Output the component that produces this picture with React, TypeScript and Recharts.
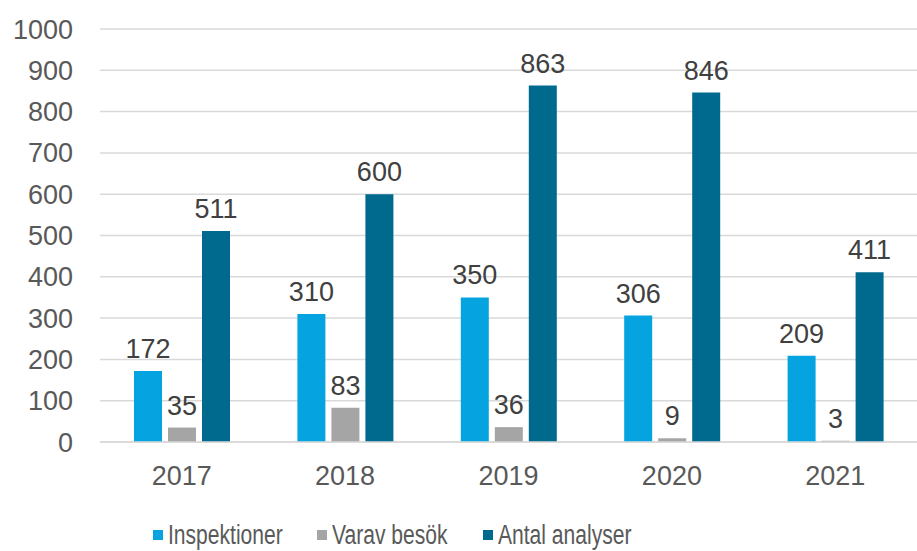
import { BarChart, Bar, XAxis, YAxis, CartesianGrid, LabelList } from "recharts";

const years = ["2017", "2018", "2019", "2020", "2021"];
const inspektioner = [172, 310, 350, 306, 209];
const varavBesok = [35, 83, 36, 9, 3];
const antalAnalyser = [511, 600, 863, 846, 411];
const yTicks = [0, 100, 200, 300, 400, 500, 600, 700, 800, 900, 1000];

const series = [
  { key: "inspektioner", name: "Inspektioner", color: "#05A3DF" },
  { key: "varav", name: "Varav besök", color: "#A5A5A5" },
  { key: "antal", name: "Antal analyser", color: "#006A8E" },
];

const data = years.map((year, i) => ({
  year,
  inspektioner: inspektioner[i],
  varav: varavBesok[i],
  antal: antalAnalyser[i],
}));

const font = "'Liberation Sans', Arial, sans-serif";
const itemWidths = [164, 166, 170];

function ChartLegend() {
  return (
    <div style={{ position: "absolute", left: 153, top: 520, display: "flex", fontFamily: font }}>
      {series.map((s, i) => (
        <div key={s.key} style={{ width: itemWidths[i], display: "flex", alignItems: "center", height: 30 }}>
          <span style={{ width: 10, height: 10, background: s.color, marginRight: 5, flexShrink: 0 }} />
          <span
            style={{
              display: "inline-block",
              fontSize: 27,
              color: "#595959",
              transform: "scaleX(0.78)",
              transformOrigin: "left center",
              whiteSpace: "nowrap",
              lineHeight: "30px",
            }}
          >
            {s.name}
          </span>
        </div>
      ))}
    </div>
  );
}

export default function App() {
  const labelStyle = { fill: "#404040", fontSize: 27, fontFamily: font };
  return (
    <div style={{ position: "fixed", left: 0, top: 0, width: 917, height: 551, background: "#fff" }}>
      <BarChart
        width={917}
        height={551}
        data={data}
        margin={{ top: 29, right: 0, bottom: 0, left: 0 }}
        barSize={28}
        barGap={6}
      >
        <CartesianGrid vertical={false} stroke="#D9D9D9" strokeWidth={1.5} />
        <XAxis
          dataKey="year"
          height={109}
          axisLine={{ stroke: "#D9D9D9", strokeWidth: 1.5 }}
          tickLine={false}
          tickSize={0}
          tickMargin={24}
          tick={{ fill: "#595959", fontSize: 27, fontFamily: font }}
        />
        <YAxis
          width={100}
          domain={[0, 1000]}
          ticks={yTicks}
          axisLine={false}
          tickLine={false}
          tickSize={0}
          tickMargin={27}
          tick={{ fill: "#595959", fontSize: 27, fontFamily: font }}
        />
        {series.map((s) => (
          <Bar key={s.key} dataKey={s.key} name={s.name} fill={s.color} isAnimationActive={false}>
            <LabelList dataKey={s.key} position="top" offset={13} style={labelStyle} />
          </Bar>
        ))}
      </BarChart>
      <ChartLegend />
    </div>
  );
}
